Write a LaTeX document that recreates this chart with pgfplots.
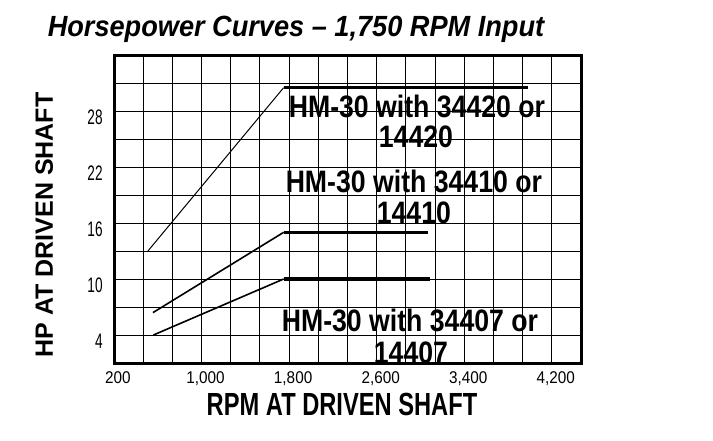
\documentclass[border=0pt]{standalone}
\usepackage{fontspec}
\setmainfont{Liberation Sans}
\newfontfamily\titlefont{Liberation Sans}[FakeStretch=0.93]
\newfontfamily\xlabfont{Liberation Sans}[FakeStretch=0.74]
\newfontfamily\curvefont{Liberation Sans}[FakeStretch=0.86]
\newfontfamily\yticfont{Liberation Sans}[FakeStretch=0.65]
\newfontfamily\xticfont{Liberation Sans}[FakeStretch=0.9]
\usepackage{pgfplots}
\pgfplotsset{compat=1.18}

\begin{document}
\begin{tikzpicture}
\path[use as bounding box] (0,0) rectangle (356.5pt,-220pt);
\begin{axis}[
    at={(57pt,-181.5pt)}, anchor=south west,
    scale only axis,
    width=233.5pt, height=154pt,
    xmin=200, xmax=4466.667,
    ymin=1, ymax=34,
    xtick={200,1000,1800,2600,3400,4200},
    xticklabels={200,{1,000},{1,800},{2,600},{3,400},{4,200}},
    ytick={4,10,16,22,28},
    yticklabels={4,10,16,22,28},
    minor xtick={466.667,733.333,1266.667,1533.333,2066.667,2333.333,2866.667,3133.333,3666.667,3933.333},
    minor ytick={1,7,13,19,25,31,34},
    grid=both,
    major grid style={black, line width=0.5pt},
    minor grid style={black, line width=0.5pt},
    major tick length=0pt, minor tick length=0pt,
    axis line style={black, line width=1.5pt},
    /pgf/number format/assume math mode=true,
    x tick label style={font=\xticfont\fontsize{8.5}{10}\selectfont, anchor=base, inner sep=0pt, yshift=-10pt, xshift=2pt},
    y tick label style={font=\yticfont\fontsize{10.5}{12}\selectfont, anchor=east, inner sep=0pt, xshift=-5.5pt, yshift=-3pt},
]
% HM-30 with 34420 / 14420
\addplot[black, line width=0.5pt] coordinates {(510,13) (1750,30.5)};
\addplot[black, line width=1.6pt] coordinates {(1750,30.5) (3980,30.5)};
% HM-30 with 34410 / 14410
\addplot[black, line width=0.8pt] coordinates {(556,6.4) (1750,15)};
\addplot[black, line width=1.6pt] coordinates {(1750,15) (3070,15)};
% HM-30 with 34407 / 14407
\addplot[black, line width=0.8pt] coordinates {(560,4) (1750,10)};
\addplot[black, line width=1.6pt] coordinates {(1750,10) (3090,10)};

\tikzset{curvelab/.style={font=\curvefont\bfseries\fontsize{15.5}{18}\selectfont, inner sep=0pt, anchor=center}}
\node[curvelab] at (axis cs:2968,28.5) {HM-30 with 34420 or};
\node[curvelab] at (axis cs:2959,25.2) {14420};
\node[curvelab] at (axis cs:2940,20.45) {HM-30 with 34410 or};
\node[curvelab] at (axis cs:2940,17.1) {14410};
\node[curvelab] at (axis cs:2904,5.6) {HM-30 with 34407 or};
\node[curvelab] at (axis cs:2913,2.1) {14407};
\end{axis}
\node[font=\titlefont\bfseries\itshape\fontsize{14.6}{17}\selectfont, anchor=base, inner sep=0pt] at (148pt,-18pt) {Horsepower Curves – 1,750 RPM Input};
\node[font=\xlabfont\bfseries\fontsize{16}{19}\selectfont, anchor=base, inner sep=0pt] at (171pt,-207.5pt) {RPM AT DRIVEN SHAFT};
\node[font=\bfseries\fontsize{12.5}{15}\selectfont, anchor=base, inner sep=0pt, rotate=90] at (26.5pt,-112.5pt) {HP AT DRIVEN SHAFT};
\end{tikzpicture}
\end{document}
